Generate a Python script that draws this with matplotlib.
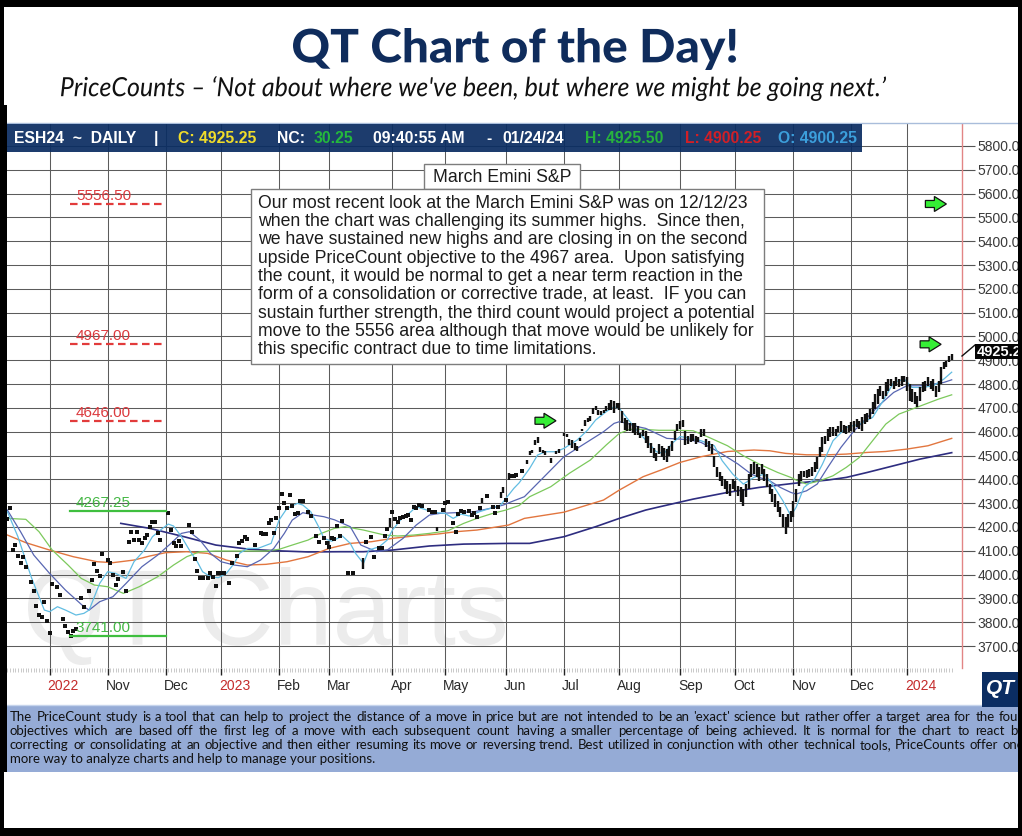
import numpy as np
import matplotlib
matplotlib.use("Agg")
import matplotlib.pyplot as plt
from matplotlib import font_manager
from matplotlib.font_manager import FontProperties
from matplotlib.patches import Rectangle, Polygon, PathPatch
from matplotlib.lines import Line2D
from matplotlib.textpath import TextPath
from matplotlib.transforms import Affine2D, ScaledTranslation

W, H = 1022, 836

# DATA (bar number = trading day from 2022-09-09, None = no print)
low = [
    4232, 4278, 4103, 4124, 4078, 4047, 4075, 4030, None, 3967,
    3932, 3868, 3830, 3820, 3886, 3806, 3753, 3960, None, 3946,
    3914, 3812, 3784, 3760, 3742, 3764, 3770, None, 3900, 3862,
    None, 3932, 3977, 4044, 4016, 3994, 4086, None, 4061, 4050,
    3998, 3956, 3980, None, 4012, 3932, 4137, 4178, 4145, 4178,
    4145, 4134, 4155, 4166, 4201, 4222, 4222, 4173, 4145, None,
    None, 4260, 4187, 4134, 4121, 4142, 4120, None, None, 4208,
    4178, 4065, 4015, 3984, 3984, None, 3984, 4005, 3991, 3952,
    4008, 4005, 4008, None, 3966, 4050, None, 4078, 4131, 4142,
    4157, 4148, None, None, 4124, None, 4173, 4170, 4170, 4218,
    4229, 4176, 4236, 4278, 4338, 4299, 4281, 4334, 4288, 4254,
    4260, 4310, 4310, None, 4264, 4246, None, 4162, 4138, None,
    4152, 4131, 4117, 4152, 4148, 4204, 4162, 4226, None, 4008,
    None, 4005, None, None, None, 4022, 4138, None, 4159, 4075,
    None, 4110, 4110, 4162, 4190, 4201, 4264, 4232, 4219, 4236,
    4243, 4246, 4249, 4229, 4285, 4278, 4292, 4289, None, None,
    4271, 4264, 4261, 4184, None, 4271, 4302, 4306, None, 4215,
    4180, 4254, 4267, 4264, None, 4267, 4250, 4257, 4240, 4278,
    4302, None, 4330, None, 4282, 4257, 4285, 4320, 4341, 4313,
    4397, 4412, 4416, 4420, None, 4437, None, 4466, 4504, 4511,
    4546, 4553, 4514, 4512, 4504, None, 4469, None, 4508, 4511,
    None, 4584, 4578, 4546, 4532, 4525, 4518, 4560, 4602, 4626,
    4640, 4644, 4676, 4690, 4672, 4672, 4679, 4686, 4693, 4693,
    4679, 4700, 4693, 4637, 4609, 4602, 4602, 4595, 4588, 4588,
    4574, 4581, 4553, 4532, 4511, 4490, 4476, 4505, 4495, 4480,
    4471, 4500, 4520, 4565, 4604, 4611, 4618, 4545, 4548, 4555,
    4562, 4548, 4555, 4576, 4583, 4534, 4520, 4506, 4450, 4408,
    4394, 4373, 4359, 4338, 4331, 4359, 4352, 4331, 4303, 4289,
    4324, 4359, 4408, 4422, 4408, 4394, 4422, 4394, 4366, 4338,
    4303, 4282, 4261, 4240, 4198, 4170, 4198, 4219, 4240, 4303,
    4373, 4394, 4408, 4405, 4410, 4415, 4429, 4443, 4492, 4513,
    4548, 4562, 4576, 4583, 4583, 4597, 4597, 4595, 4590, 4600,
    4604, 4597, 4618, 4611, 4604, 4632, 4640, 4653, 4674, 4695,
    4716, 4751, 4737, 4751, 4772, 4793, 4779, 4793, 4786, 4793,
    4807, 4772, 4730, 4723, 4716, 4702, 4730, 4765, 4772, 4793,
    4779, 4772, 4744, 4765, 4800, 4863, 4870, 4891, 4900.25,
]
# the early prints are single-price; high only differs from bar 135 on
high = low[:130] + [
    None, 4005, None, None, None, 4068, 4138, None, 4159, 4075,
    None, 4110, 4110, 4162, 4190, 4236, 4264, 4232, 4219, 4236,
    4243, 4246, 4249, 4229, 4285, 4278, 4292, 4289, None, None,
    4271, 4264, 4261, 4201, None, 4271, 4302, 4306, None, 4215,
    4180, 4254, 4267, 4264, None, 4267, 4250, 4257, 4240, 4278,
    4320, None, 4330, None, 4282, 4257, 4285, 4348, 4369, 4313,
    4425, 4412, 4416, 4420, None, 4437, None, 4480, 4518, 4522,
    4567, 4578, 4536, 4522, 4518, None, 4490, None, 4518, 4528,
    None, 4595, 4592, 4570, 4567, 4553, 4539, 4574, 4612, 4648,
    4658, 4665, 4700, 4707, 4693, 4686, 4693, 4707, 4721, 4735,
    4728, 4721, 4721, 4686, 4658, 4651, 4637, 4637, 4637, 4623,
    4595, 4609, 4602, 4581, 4553, 4532, 4511, 4550, 4540, 4530,
    4527, 4540, 4560, 4605, 4632, 4644, 4648, 4604, 4583, 4590,
    4590, 4583, 4576, 4611, 4611, 4569, 4562, 4548, 4499, 4450,
    4429, 4415, 4400, 4394, 4380, 4401, 4394, 4373, 4366, 4359,
    4380, 4422, 4464, 4471, 4464, 4450, 4464, 4443, 4422, 4380,
    4359, 4338, 4310, 4282, 4254, 4240, 4254, 4268, 4310, 4359,
    4422, 4436, 4436, 4440, 4445, 4450, 4471, 4492, 4534, 4576,
    4583, 4611, 4618, 4618, 4611, 4625, 4646, 4630, 4625, 4630,
    4639, 4646, 4653, 4646, 4660, 4674, 4680, 4695, 4723, 4758,
    4779, 4793, 4772, 4807, 4821, 4821, 4814, 4828, 4821, 4835,
    4835, 4828, 4800, 4779, 4765, 4751, 4786, 4807, 4814, 4831,
    4814, 4821, 4793, 4814, 4870, 4891, 4898, 4919, 4925.5,
]

# moving averages, read at turning points (bar, price)
ma_cyan_x = [0, 4, 9, 14, 16, 19, 22, 26, 29, 31, 35, 38, 41, 45, 48, 52, 55, 58, 61, 63,
             66, 69, 72, 74, 77, 80, 83, 86, 88, 91, 95, 100, 103, 106, 110, 112, 115, 118, 120, 123,
             127, 130, 132, 135, 137, 141, 144, 146, 149, 153, 155, 159, 163, 166, 169, 172, 175, 179, 183, 187,
             189, 192, 194, 198, 201, 204, 208, 211, 216, 220, 223, 227, 230, 232, 235, 238, 242, 246, 249, 252,
             255, 259, 263, 268, 271, 275, 279, 283, 287, 290, 294, 297, 299, 302, 306, 309, 313, 318, 323, 328,
             332, 336, 340, 343, 347, 351, 355, 358]
ma_cyan = [4264, 4159, 3991, 3851, 3844, 3865, 3851, 3830, 3837, 3851, 3963, 4012, 4005, 3984, 4054, 4103, 4159, 4187, 4212, 4204,
           4159, 4103, 4054, 4012, 3991, 3987, 4005, 4047, 4089, 4110, 4110, 4131, 4229, 4278, 4299, 4292, 4264, 4201, 4152, 4140,
           4162, 4131, 4089, 4047, 4103, 4117, 4145, 4187, 4229, 4264, 4285, 4271, 4260, 4257, 4236, 4254, 4246, 4264, 4278, 4292,
           4320, 4362, 4385, 4446, 4502, 4516, 4516, 4530, 4565, 4607, 4649, 4684, 4705, 4698, 4656, 4614, 4565, 4516, 4509, 4551,
           4580, 4572, 4562, 4541, 4478, 4422, 4380, 4408, 4422, 4380, 4310, 4247, 4282, 4366, 4401, 4464, 4562, 4618, 4632, 4660,
           4730, 4807, 4821, 4786, 4786, 4793, 4821, 4850]

ma_blue_x = [0, 5, 10, 16, 22, 29, 31, 35, 40, 45, 51, 57, 62, 66, 69, 73, 77, 81, 86, 91,
             96, 101, 105, 108, 112, 116, 120, 124, 130, 134, 140, 144, 150, 155, 160, 164, 170, 177, 183, 188,
             192, 196, 201, 206, 211, 216, 221, 226, 230, 232, 235, 239, 242, 246, 250, 255, 259, 263, 270, 277,
             282, 285, 289, 293, 297, 299, 303, 307, 311, 316, 321, 326, 331, 336, 341, 346, 351, 355, 358]
ma_blue = [4271, 4180, 4082, 4005, 3935, 3865, 3851, 3886, 3907, 3963, 4033, 4082, 4131, 4173, 4180, 4145, 4089, 4054, 4040, 4033,
           4061, 4110, 4173, 4229, 4260, 4250, 4243, 4230, 4201, 4124, 4096, 4103, 4152, 4208, 4250, 4257, 4260, 4264, 4278, 4292,
           4310, 4327, 4383, 4439, 4495, 4530, 4565, 4600, 4635, 4642, 4635, 4621, 4614, 4593, 4572, 4569, 4565, 4555, 4513, 4464,
           4422, 4408, 4394, 4366, 4345, 4338, 4352, 4380, 4450, 4534, 4604, 4660, 4716, 4765, 4793, 4793, 4800, 4807, 4818]

ma_green_x = [0, 7, 12, 17, 23, 28, 33, 38, 44, 50, 57, 63, 68, 73, 79, 86, 92, 98, 103, 108,
              114, 119, 124, 128, 135, 143, 148, 154, 160, 167, 173, 178, 184, 189, 194, 198, 206, 213, 221, 227,
              232, 236, 241, 247, 254, 260, 266, 273, 279, 285, 292, 297, 299, 303, 308, 313, 318, 323, 328, 333,
              338, 343, 348, 353, 358]
ma_green = [4236, 4232, 4180, 4103, 4040, 3984, 3956, 3949, 3921, 3949, 3991, 4040, 4075, 4096, 4099, 4099, 4099, 4099, 4106, 4124,
            4145, 4173, 4194, 4201, 4187, 4166, 4162, 4166, 4173, 4184, 4215, 4236, 4257, 4271, 4290, 4327, 4369, 4425, 4481, 4544,
            4593, 4610, 4610, 4606, 4606, 4604, 4576, 4541, 4499, 4464, 4429, 4408, 4397, 4380, 4394, 4415, 4450, 4492, 4562, 4632,
            4674, 4695, 4716, 4737, 4755]

ma_orange_x = [0, 7, 16, 25, 34, 40, 48, 54, 60, 68, 76, 83, 91, 98, 106, 114, 122, 130, 138, 146,
               154, 163, 170, 178, 186, 190, 196, 211, 226, 232, 241, 248, 255, 263, 273, 283, 289, 295, 303, 311,
               318, 326, 333, 341, 349, 358]
ma_orange = [4166, 4134, 4103, 4075, 4054, 4050, 4061, 4078, 4092, 4096, 4089, 4061, 4040, 4043, 4054, 4075, 4110, 4131, 4138, 4152,
             4162, 4170, 4180, 4187, 4201, 4208, 4236, 4262, 4313, 4355, 4411, 4440, 4471, 4495, 4517, 4523, 4520, 4509, 4503, 4503,
             4506, 4513, 4517, 4527, 4541, 4572]

ma_navy_x = [43, 54, 67, 79, 92, 102, 114, 126, 135, 146, 160, 173, 190, 198, 211, 223, 232, 242, 247, 260,
             273, 285, 298, 311, 318, 326, 336, 346, 358]
ma_navy = [4215, 4194, 4159, 4124, 4106, 4100, 4095, 4096, 4096, 4103, 4120, 4128, 4131, 4131, 4159, 4201, 4236, 4271, 4284, 4317,
           4345, 4366, 4383, 4397, 4408, 4429, 4457, 4485, 4512]

month_start = [16, 38, 60, 81, 103, 122, 146, 166, 189, 211, 232, 255, 276, 298, 320, 341]
month_text = ['2022', 'Nov', 'Dec', '2023', 'Feb', 'Mar', 'Apr', 'May', 'Jun',
              'Jul', 'Aug', 'Sep', 'Oct', 'Nov', 'Dec', '2024']

count_up = [5556.50, 4967.00, 4646.00]     # red dashed objectives
count_down = [4267.25, 3741.00]            # green solid objectives
arrow_bar = [352, 350, 204]
arrow_level = [5556.50, 4967.00, 4646.00]

header = [('ESH24  ~  DAILY', 'white'), ('|', 'white'), ('C: 4925.25', '#f0dc2a'),
          ('NC:', 'white'), ('30.25', '#24b83c'), ('09:40:55 AM', 'white'), ('-', 'white'),
          ('01/24/24', 'white'), ('H: 4925.50', '#27b33c'), ('L: 4900.25', '#d21f26'),
          ('O: 4900.25', '#3c9fdc')]

note_lines = [
    "Our most recent look at the March Emini S&P was on 12/12/23",
    "when the chart was challenging its summer highs.  Since then,",
    "we have sustained new highs and are closing in on the second",
    "upside PriceCount objective to the 4967 area.  Upon satisfying",
    "the count, it would be normal to get a near term reaction in the",
    "form of a consolidation or corrective trade, at least.  IF you can",
    "sustain further strength, the third count would project a potential",
    "move to the 5556 area although that move would be unlikely for",
    "this specific contract due to time limitations.",
]
footer_lines = [
    "The PriceCount study is a tool that can help to project the distance of a move in price but are not intended to be an 'exact' science but rather offer a target area for the four",
    "objectives which are based off the first leg of a move with each subsequent count having a smaller percentage of being achieved. It is normal for the chart to react by",
    "correcting or consolidating at an objective and then either resuming its move or reversing trend.  Best utilized in conjunction with other technical tools, PriceCounts offer one",
    "more way to analyze charts and help to manage your positions.",
]

# FONTS
fonts = font_manager.fontManager.ttflist
names = {f.name for f in fonts}
SANS = 'Liberation Sans'
NARROW = 'Liberation Sans Narrow' if 'Liberation Sans Narrow' in names else SANS
HUMAN = 'Lato' if 'Lato' in names else 'DejaVu Sans'
ITALIC = next((n for n in ('Lato', 'Open Sans', 'Noto Sans', 'DejaVu Sans')
               if any(f.name == n and f.style == 'italic' for f in fonts)), 'DejaVu Sans')


def ink_width(s, **font):
    # ink width of s at 1px font size
    return TextPath((0, 0), s, size=100, prop=FontProperties(**font)).get_extents().width / 100


# FIGURE
fig = plt.figure(figsize=(W / 100, H / 100), dpi=100)
fig.patch.set_facecolor('white')
px = Affine2D().scale(1 / W, -1 / H).translate(0, 1) + fig.transFigure


def rect(x, y, w, h, z, **kw):
    fig.add_artist(Rectangle((x, y), w, h, transform=px, zorder=z, **kw))


def fit_text(s, x0, y0, x1, y1, color, z, **font):
    tp = TextPath((0, 0), s, size=100, prop=FontProperties(**font))
    e = tp.get_extents()
    tr = (Affine2D().translate(-e.x0, -e.y1)
          .scale((x1 - x0) / e.width, -(y1 - y0) / e.height)
          .translate(x0, y0) + px)
    fig.add_artist(PathPatch(tp, fc=color, ec='none', transform=tr, zorder=z))


# titles
fit_text('QT Chart of the Day!', 293, 28, 736, 70, '#0f2c5c', 2, family=HUMAN, weight='black')
fit_text('PriceCounts \u2013 \u2018Not about where we\'ve been, but where we might be going next.\u2019',
         61, 76, 886, 101, '#111111', 2, family=ITALIC, style='italic')

# watermark behind the grid
fit_text('QT Charts', 28, 567, 505, 665, '#ececec', -1, family=SANS)

# CHART
ax = fig.add_axes([7 / W, 1 - 668 / H, 955 / W, 544 / H])
ax.patch.set_visible(False)
ax.set_axisbelow(True)

lo = np.array([np.nan if v is None else v for v in low], float)
hi = np.array([np.nan if v is None else v for v in high], float)
idx = np.arange(len(lo))
is_bar = hi > lo
is_dot = hi == lo
ax.vlines(idx[is_bar], lo[is_bar], hi[is_bar], color='#111111', lw=1.7, zorder=4)
ax.scatter(idx[is_dot], lo[is_dot], marker='s', s=6, color='#111111', lw=0, zorder=4)

ax.plot(ma_navy_x, ma_navy, color='#2e2d80', lw=1.2, zorder=3)
ax.plot(ma_orange_x, ma_orange, color='#e2763f', lw=1.0, zorder=3)
ax.plot(ma_green_x, ma_green, color='#7cc95c', lw=0.9, zorder=3)
ax.plot(ma_blue_x, ma_blue, color='#5866b2', lw=0.9, zorder=3)
ax.plot(ma_cyan_x, ma_cyan, color='#62bde2', lw=0.9, zorder=3)

# PriceCount objective levels
up_tr = ax.transData + ScaledTranslation(0, 4 / 100, fig.dpi_scale_trans)
for lv in count_up:
    ax.plot([23.8, 60.3], [lv, lv], color='#e23b3b', lw=1.6, ls=(0, (3.4, 2.0)), zorder=5)
    ax.text(26, lv, f'{lv:.2f}', transform=up_tr, color='#dc3a3e', fontsize=11,
            family=SANS, va='baseline', ha='left', zorder=5)
for lv in count_down:
    ax.plot([23.8, 60.3], [lv, lv], color='#3fbf3f', lw=1.6, zorder=5)
    ax.text(26, lv, f'{lv:.2f}', transform=up_tr, color='#45b845', fontsize=11,
            family=SANS, va='baseline', ha='left', zorder=5)

# green arrows at the objectives
arrow_shape = np.array([(-10.5, -3.5), (-1.5, -3.5), (-1.5, -7.5), (10.5, 0),
                        (-1.5, 7.5), (-1.5, 3.5), (-10.5, 3.5)]) / 100
for b, lv in zip(arrow_bar, arrow_level):
    tr = fig.dpi_scale_trans + ScaledTranslation(b, lv, ax.transData)
    ax.add_patch(Polygon(arrow_shape, closed=True, fc='#35ee35', ec='#111111', lw=0.9,
                         transform=tr, zorder=6, clip_on=False))

ax.set_xlim(-0.14, 361.9)
ax.set_ylim(3607.6, 5892.4)

yt = np.arange(3700, 5801, 100)
ax.set_yticks(yt)
ax.set_yticklabels([f'{v:.2f}' for v in yt])
ax.yaxis.tick_right()
ax.tick_params(axis='y', which='major', length=9.4, width=0.8, color='#555555', pad=1.5,
               labelsize=10, labelcolor='#3a3a3a')
for lab in ax.get_yticklabels():
    lab.set_family(SANS)

ax.set_xticks(month_start)
ax.set_xticks(idx, minor=True)
ax.tick_params(axis='x', which='major', length=5, width=1, color='#222222', labelbottom=False)
ax.tick_params(axis='x', which='minor', length=3, width=0.5, color='#b4b4b4')
ax.grid(True, which='major', color='#5c5c5c', lw=0.75)
for t, lab in zip(ax.xaxis.get_major_ticks(), month_text):
    if lab.isdigit():
        t.tick1line.set_color('#d23a3a')

lab_tr = ax.get_xaxis_transform() + ScaledTranslation(-2 / 100, -18 / 100, fig.dpi_scale_trans)
for ms, lab in zip(month_start, month_text):
    ax.text(ms, 0, lab, transform=lab_tr, ha='left', va='center', fontsize=11 if NARROW != SANS else 10,
            family=NARROW, color='#c42c2c' if lab.isdigit() else '#2a2a2a')

for s in ('left', 'top', 'bottom'):
    ax.spines[s].set_visible(False)
ax.spines['right'].set_color('#e28585')
ax.spines['right'].set_linewidth(1.0)

# header ribbon
fig.add_artist(Line2D([7, 1018], [123, 123], transform=px, color='#a9bddb', lw=1, zorder=5))
rect(7, 124, 855, 28, 5, fc='#0b2d62', ec='none', alpha=0.93)
head_x = [14, 154, 178, 277, 314, 373, 486, 502, 585, 685, 778]
for (s, c), x in zip(header, head_x):
    fig.text(x, 138.5, s, transform=px, color=c, fontsize=11.3, family=SANS,
             weight='bold', va='center', ha='left', zorder=6)

# comment boxes
rect(424, 164, 156, 25, 3, fc='white', ec='#7d7d7d', lw=1)
fs_small = 136 / ink_width('March Emini S&P', family=SANS) * 0.72
fig.text(502, 177, 'March Emini S&P', transform=px, ha='center', va='center',
         fontsize=fs_small, family=SANS, color='#1c1c1c', zorder=4)
rect(251, 189, 513, 175, 3, fc='white', ec='#7d7d7d', lw=1)
fs_note = 487 / ink_width(note_lines[0], family=SANS) * 0.72
for k, line in enumerate(note_lines):
    fig.text(258, 203 + k * 18.35, line, transform=px, ha='left', va='center',
             fontsize=fs_note, family=SANS, color='#1c1c1c', zorder=4)

# last price tag
fig.add_artist(Line2D([962, 975], [356, 345], transform=px, color='#111111', lw=1, zorder=6))
rect(975, 344, 47, 15, 6, fc='#050505', ec='none')
fig.text(977, 351.5, '4925.25', transform=px, ha='left', va='center', fontsize=10.5,
         family=SANS, weight='bold', color='white', zorder=7)

# QT logo
rect(982, 672, 36, 35, 6, fc='#0b2d62', ec='none')
fig.text(1000, 689, 'QT', transform=px, ha='center', va='center', fontsize=15,
         family=SANS, weight='bold', style='italic', color='white', zorder=7)

# footer band with justified text
rect(7, 705, 1015, 67, 2, fc='#95abd6', ec='none')
fig.add_artist(Line2D([7, 1018], [705, 705], transform=px, color='#c6d4ec', lw=1, zorder=3))
unit = ink_width(footer_lines[3], family=HUMAN)
fpx = 365 / unit
for k, line in enumerate(footer_lines):
    y = 717 + k * 14
    if k == len(footer_lines) - 1:
        fig.text(10, y, line, transform=px, ha='left', va='center', fontsize=fpx * 0.72,
                 family=HUMAN, color='#111111', zorder=4)
        continue
    words = line.split()
    widths = [ink_width(w, family=HUMAN) * fpx for w in words]
    gap = max((1023 - 10 - sum(widths)) / (len(words) - 1), 2.0)
    x = 10
    for w, wd in zip(words, widths):
        fig.text(x, y, w, transform=px, ha='left', va='center', fontsize=fpx * 0.72,
                 family=HUMAN, color='#111111', zorder=4)
        x += wd + gap

# black frame
for x, y, w, h in [(0, 0, W, 7), (0, 828, W, 8), (0, 0, 4, H), (0, 105, 7, 667), (1018, 0, 4, H)]:
    rect(x, y, w, h, 30, fc='black', ec='none')

fig.savefig('out.png', dpi=100)
